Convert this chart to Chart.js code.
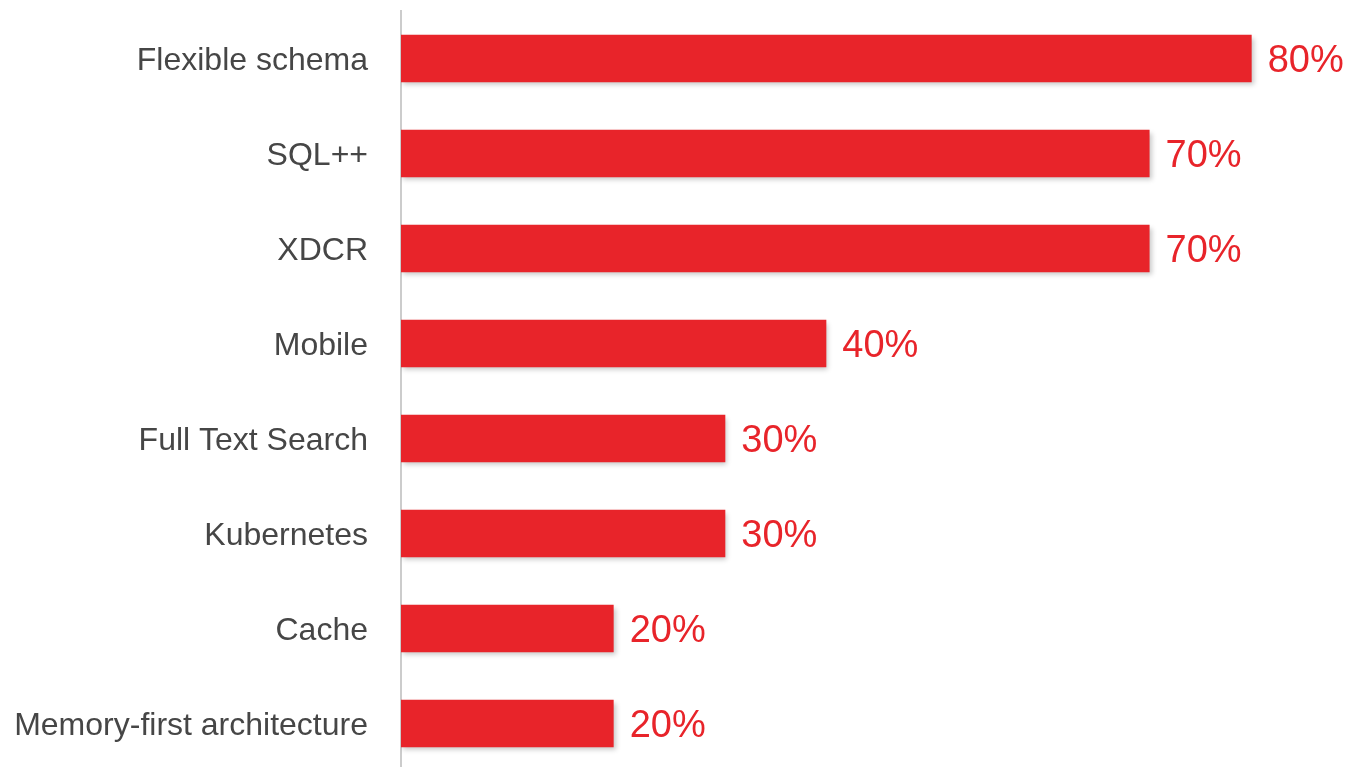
<!DOCTYPE html>
<html>
<head>
<meta charset="utf-8">
<script src="https://cdn.jsdelivr.net/npm/chart.js@4/dist/chart.umd.min.js"></script>
<style>
  html, body { margin: 0; padding: 0; background: #fff; overflow: hidden; }
  #chart { display: block; }
</style>
</head>
<body>
<canvas id="chart" width="1366" height="782"></canvas>
<script>
const features = ['Flexible schema', 'SQL++', 'XDCR', 'Mobile', 'Full Text Search', 'Kubernetes', 'Cache', 'Memory-first architecture'];
// bar lengths (percent)
const shares = [80, 70.4, 70.4, 40, 30.5, 30.5, 20, 20];
const shareLabels = ['80%', '70%', '70%', '40%', '30%', '30%', '20%', '20%'];

const RED = '#E8242A';
const FONT = "'Liberation Sans', Arial, Helvetica, sans-serif";

// soft drop shadow under the bars
const barShadow = {
    id: 'barShadow',
    beforeDatasetDraw(chart) {
        const ctx = chart.ctx;
        ctx.save();
        ctx.shadowColor = 'rgba(0, 0, 0, 0.22)';
        ctx.shadowBlur = 5;
        ctx.shadowOffsetX = 2;
        ctx.shadowOffsetY = 3;
    },
    afterDatasetDraw(chart) {
        chart.ctx.restore();
    }
};

// percent text at the end of each bar
const valueLabels = {
    id: 'valueLabels',
    afterDatasetsDraw(chart) {
        const ctx = chart.ctx;
        const meta = chart.getDatasetMeta(0);
        ctx.save();
        ctx.fillStyle = RED;
        ctx.font = '38px ' + FONT;
        ctx.textAlign = 'left';
        ctx.textBaseline = 'middle';
        meta.data.forEach((bar, i) => {
            ctx.fillText(shareLabels[i], bar.x + 16, bar.y + 3);
        });
        ctx.restore();
    }
};

const ctx = document.getElementById('chart').getContext('2d');
new Chart(ctx, {
    type: 'bar',
    data: {
        labels: features,
        datasets: [{
            data: shares,
            backgroundColor: RED,
            borderWidth: 0,
            categoryPercentage: 1,
            barPercentage: 0.5
        }]
    },
    options: {
        indexAxis: 'y',
        responsive: false,
        animation: false,
        layout: { padding: { top: 11, left: 0, right: 8, bottom: 0 } },
        plugins: {
            legend: { display: false },
            tooltip: { enabled: false }
        },
        scales: {
            x: {
                display: false,
                min: 0,
                max: 90
            },
            y: {
                grid: { display: false, drawTicks: true, tickLength: 33 },
                border: { display: true, color: '#cccccc', width: 2 },
                ticks: {
                    color: '#464646',
                    padding: 0,
                    labelOffset: 3,
                    font: { family: FONT, size: 32, lineHeight: 0.68 }
                },
                afterFit(scale) { scale.width = 401; }
            }
        }
    },
    plugins: [barShadow, valueLabels]
});
</script>
</body>
</html>
